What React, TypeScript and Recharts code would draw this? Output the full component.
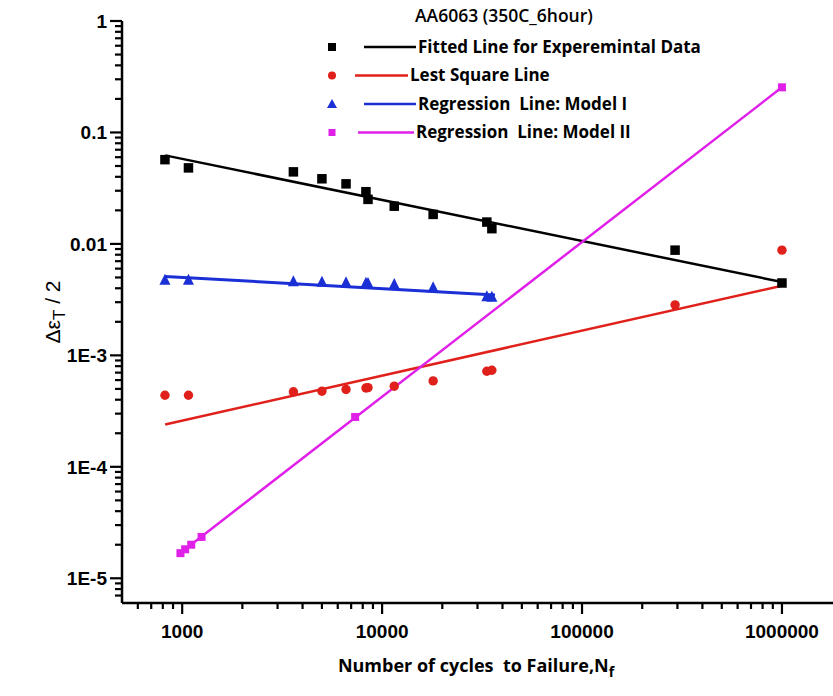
import React from "react";
import { ComposedChart, Scatter, XAxis, YAxis } from "recharts";

// Experimental points (cycles to failure vs strain amplitude)
const expCycles = [820, 1075, 3600, 5000, 6600, 8300, 8500, 11500, 18000, 33400, 35400, 292000, 1000000];
const expStrain = [0.057, 0.0481, 0.0443, 0.0384, 0.0346, 0.0294, 0.0251, 0.0218, 0.0184, 0.0157, 0.0137, 0.00879, 0.00446];

const lsqCycles = [820, 1075, 3600, 5000, 6600, 8300, 8500, 11500, 18000, 33400, 35400, 292000, 1000000];
const lsqStrain = [4.39e-4, 4.39e-4, 4.71e-4, 4.77e-4, 4.94e-4, 5.1e-4, 5.14e-4, 5.29e-4, 5.9e-4, 7.2e-4, 7.35e-4, 2.84e-3, 8.79e-3];

const model1Cycles = [820, 1075, 3600, 5000, 6600, 8300, 8500, 11500, 18000, 33400, 35400];
const model1Strain = [4.77e-3, 4.77e-3, 4.61e-3, 4.58e-3, 4.52e-3, 4.47e-3, 4.45e-3, 4.37e-3, 4.08e-3, 3.39e-3, 3.35e-3];

const model2Cycles = [980, 1035, 1110, 1250, 7330, 1000000];
const model2Strain = [1.68e-5, 1.82e-5, 2.0e-5, 2.35e-5, 2.8e-4, 0.254];

// fitted line end points
const expLineCycles = [822, 1000000];
const expLineStrain = [0.0623, 0.00455];
const lsqLineCycles = [822, 1000000];
const lsqLineStrain = [2.4e-4, 4.22e-3];
const model1LineCycles = [822, 36700];
const model1LineStrain = [5.11e-3, 3.48e-3];
const model2LineCycles = [950, 1000000];
const model2LineStrain = [1.62e-5, 0.254];

const xMajor = [1000, 10000, 100000, 1000000];
const yMajor = [1e-5, 1e-4, 1e-3, 0.01, 0.1, 1];
const yLabels = ["1E-5", "1E-4", "1E-3", "0.01", "0.1", "1"];

const legendTitle = "AA6063 (350C_6hour)";
const legendNames = [
  "Fitted Line for Experemintal Data",
  "Lest Square Line",
  "Regression  Line: Model I",
  "Regression  Line: Model II",
];

const zip = (xs: number[], ys: number[]) => xs.map((x, i) => ({ x, y: ys[i] }));

const minorOf = (majors: number[], lo: number, hi: number) => {
  const out: number[] = [];
  majors.concat([majors[0] / 10]).forEach((m) => {
    for (let k = 2; k <= 9; k++) {
      const v = Number((m * k).toPrecision(3));
      if (v > lo && v < hi) out.push(v);
    }
  });
  return out;
};

const X_DOMAIN: [number, number] = [500, 1800000];
const Y_DOMAIN: [number, number] = [6e-6, 1];
const xTicks = [...xMajor, ...minorOf(xMajor, X_DOMAIN[0], X_DOMAIN[1])].sort((a, b) => a - b);
const yTicks = [...yMajor, ...minorOf(yMajor, Y_DOMAIN[0], Y_DOMAIN[1])].sort((a, b) => a - b);

const tickFont = { fontFamily: "'Liberation Sans', Arial, sans-serif", fontWeight: 700, fontSize: 19, fill: "#000" };
const textFont = "'Open Sans', Lato, sans-serif";

const XTick = (props: any) => {
  const { x, y, payload } = props;
  const major = xMajor.includes(payload.value);
  return (
    <g>
      <line x1={x} x2={x} y1={y} y2={y + (major ? 11 : 6)} stroke="#000" strokeWidth={2.2} />
      {major && (
        <text x={x} y={y + 35} textAnchor="middle" {...tickFont}>
          {payload.value}
        </text>
      )}
    </g>
  );
};

const YTick = (props: any) => {
  const { x, y, payload } = props;
  const idx = yMajor.indexOf(payload.value);
  const major = idx >= 0;
  return (
    <g>
      <line x1={x - (major ? 12 : 7)} x2={x} y1={y} y2={y} stroke="#000" strokeWidth={2.2} />
      {major && (
        <text x={x - 15} y={y} dy="0.36em" textAnchor="end" {...tickFont}>
          {yLabels[idx]}
        </text>
      )}
    </g>
  );
};

const Square = (size: number, color: string) => (p: any) =>
  <rect x={p.cx - size / 2} y={p.cy - size / 2} width={size} height={size} fill={color} />;
const Circle = (r: number, color: string) => (p: any) => <circle cx={p.cx} cy={p.cy} r={r} fill={color} />;
const Triangle = (s: number, color: string) => (p: any) => (
  <path d={`M${p.cx},${p.cy - s * 0.55}L${p.cx + s / 2},${p.cy + s * 0.45}L${p.cx - s / 2},${p.cy + s * 0.45}Z`} fill={color} />
);
const Nothing = () => <g />;

const BLACK = "#000000";
const RED = "#e0201b";
const BLUE = "#1a2fd6";
const MAGENTA = "#e020e8";

const legendColors = [BLACK, RED, BLUE, MAGENTA];

const LegendMarker = ({ i }: { i: number }) => {
  const c = legendColors[i];
  if (i === 0) return <rect x={2} y={4} width={8} height={8} fill={c} />;
  if (i === 1) return <circle cx={6} cy={8} r={4} fill={c} />;
  if (i === 2) return <path d="M6,3L11,12L1,12Z" fill={c} />;
  return <rect x={2.5} y={4.5} width={7} height={7} fill={c} />;
};

const legendRowsY = [47, 75.5, 104, 132.5];
const legendLineX = [
  [364, 416],
  [355, 408],
  [364, 416],
  [358, 414],
];

export default function App() {
  return (
    <div style={{ position: "absolute", left: 0, top: 0, width: 833, height: 696, background: "#fff" }}>
      <ComposedChart width={833} height={696} margin={{ top: 21, right: 0, left: 0, bottom: 0 }}>
        <XAxis
          dataKey="x"
          type="number"
          scale="log"
          domain={X_DOMAIN}
          allowDataOverflow
          ticks={xTicks}
          interval={0}
          tickLine={false}
          tickSize={0}
          tickMargin={0}
          tick={<XTick />}
          axisLine={{ stroke: "#000", strokeWidth: 2.5 }}
          height={93}
        />
        <YAxis
          dataKey="y"
          type="number"
          scale="log"
          domain={Y_DOMAIN}
          allowDataOverflow
          ticks={yTicks}
          interval={0}
          tickLine={false}
          tickSize={0}
          tickMargin={0}
          tick={<YTick />}
          axisLine={{ stroke: "#000", strokeWidth: 2.5 }}
          width={122}
        />
        <Scatter data={zip(expLineCycles, expLineStrain)} line={{ stroke: BLACK, strokeWidth: 2.5 }} shape={Nothing} isAnimationActive={false} />
        <Scatter data={zip(lsqLineCycles, lsqLineStrain)} line={{ stroke: RED, strokeWidth: 2.5 }} shape={Nothing} isAnimationActive={false} />
        <Scatter data={zip(model1LineCycles, model1LineStrain)} line={{ stroke: BLUE, strokeWidth: 3 }} shape={Nothing} isAnimationActive={false} />
        <Scatter data={zip(model2LineCycles, model2LineStrain)} line={{ stroke: MAGENTA, strokeWidth: 2.5 }} shape={Nothing} isAnimationActive={false} />
        <Scatter data={zip(expCycles, expStrain)} shape={Square(9.5, BLACK)} isAnimationActive={false} />
        <Scatter data={zip(lsqCycles, lsqStrain)} shape={Circle(4.7, RED)} isAnimationActive={false} />
        <Scatter data={zip(model1Cycles, model1Strain)} shape={Triangle(11, BLUE)} isAnimationActive={false} />
        <Scatter data={zip(model2Cycles, model2Strain)} shape={Square(8, MAGENTA)} isAnimationActive={false} />
      </ComposedChart>

      {/* legend */}
      <svg width={833} height={160} style={{ position: "absolute", left: 0, top: 0, pointerEvents: "none" }}>
        <text x={415} y={16} dy="0.35em" fontFamily={textFont} fontWeight={600} fontSize={17.5} fill="#000">
          {legendTitle}
        </text>
        {legendNames.map((name, i) => (
          <g key={name}>
            <g transform={`translate(${326}, ${legendRowsY[i] - 8})`}>
              <LegendMarker i={i} />
            </g>
            <line x1={legendLineX[i][0]} x2={legendLineX[i][1]} y1={legendRowsY[i]} y2={legendRowsY[i]} stroke={legendColors[i]} strokeWidth={2.5} />
            <text x={legendLineX[i][1] + 2} y={legendRowsY[i]} dy="0.35em" fontFamily={textFont} fontWeight={700} fontSize={17} fill="#000" style={{ whiteSpace: "pre" }}>
              {name}
            </text>
          </g>
        ))}
      </svg>

      {/* axis titles */}
      <svg width={833} height={696} style={{ position: "absolute", left: 0, top: 0, pointerEvents: "none" }}>
        <text transform="translate(60, 312) rotate(-90)" textAnchor="middle" fontFamily="'Liberation Sans', Arial, sans-serif" fontSize={21} fill="#000">
          Δε<tspan dy={5} fontSize={17}>T</tspan>
          <tspan dy={-5}> / 2</tspan>
        </text>
        <text x={476} y={672} textAnchor="middle" fontFamily={textFont} fontWeight={700} fontSize={18} fill="#000" style={{ whiteSpace: "pre" }}>
          Number of cycles  to Failure,N<tspan dy={5} fontSize={14}>f</tspan>
        </text>
      </svg>
    </div>
  );
}
